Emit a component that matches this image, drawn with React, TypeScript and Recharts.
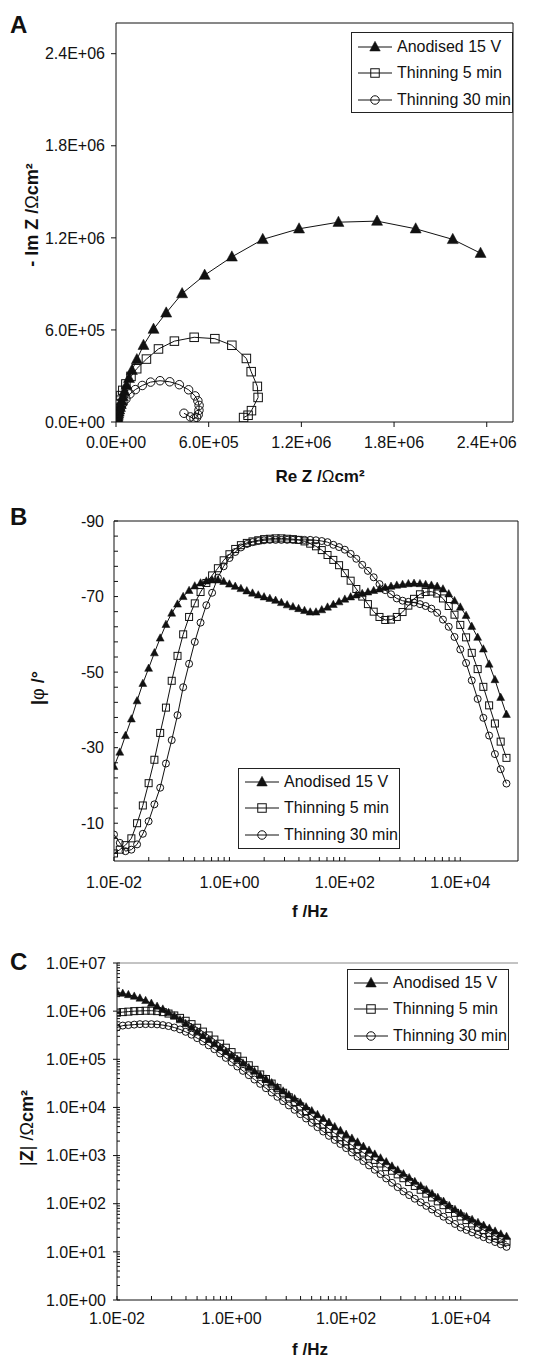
import React from 'react'
import { ScatterChart, Scatter, XAxis, YAxis, ReferenceLine } from 'recharts'

const FONT = '"Liberation Sans", Arial, Helvetica, sans-serif'
const INK = '#111'

// frequencies of the Bode sweep, 10 points per decade
const freqHz = [
  0.01, 0.0126, 0.0158, 0.02, 0.0251, 0.0316, 0.0398, 0.0501, 0.0631, 0.0794,
  0.1, 0.126, 0.158, 0.2, 0.251, 0.316, 0.398, 0.501, 0.631, 0.794,
  1, 1.26, 1.58, 2, 2.51, 3.16, 3.98, 5.01, 6.31, 7.94,
  10, 12.6, 15.8, 20, 25.1, 31.6, 39.8, 50.1, 63.1, 79.4,
  100, 126, 158, 200, 251, 316, 398, 501, 631, 794,
  1000, 1260, 1580, 2000, 2510, 3160, 3980, 5010, 6310, 7940,
  10000, 12600, 15800, 20000, 25100, 31600, 39800, 50100, 63100,
]

// phase angle (deg)
const phaseAnod = [
  -25.0, -28.8, -33.2, -37.6, -42.4, -47.0, -51.0, -55.1, -59.0, -62.6,
  -65.6, -68.0, -70.0, -71.6, -72.8, -73.6, -74.1, -74.4, -74.4, -74.0,
  -73.3, -72.7, -72.1, -71.5, -70.9, -70.4, -69.9, -69.5, -69.0, -68.4,
  -67.8, -67.3, -66.8, -66.3, -65.9, -65.9, -66.5, -67.2, -67.9, -68.6,
  -69.3, -69.9, -70.4, -70.8, -71.2, -71.6, -72.0, -72.4, -72.7, -73.0,
  -73.2, -73.4, -73.5, -73.4, -73.2, -73.0, -72.7, -72.0, -70.7, -68.9,
  -67.2, -65.0, -62.1, -59.2, -56.1, -52.1, -48.0, -43.3, -38.8,
]
const phaseThin5 = [
  -2.0, -3.0, -4.2, -6.0, -10.0, -14.7, -20.6, -26.8, -33.9, -40.6,
  -47.7, -54.3, -60.0, -64.6, -68.2, -71.2, -73.6, -75.6, -77.5, -79.6,
  -81.2, -82.6, -83.6, -84.2, -84.6, -84.9, -85.2, -85.3, -85.4, -85.4,
  -85.3, -85.2, -85.0, -84.6, -84.0, -83.3, -82.3, -81.0, -79.7, -78.3,
  -76.2, -74.2, -72.0, -70.0, -68.0, -66.0, -64.6, -63.8, -63.9, -64.6,
  -65.9, -67.6, -69.4, -70.6, -71.2, -71.3, -70.8, -69.5, -67.5, -65.2,
  -62.5, -59.2, -55.1, -50.8, -46.1, -41.2, -36.4, -31.6, -27.3,
]
const phaseThin30 = [
  -7.0, -4.8, -2.6, -3.0, -4.4, -7.2, -10.5, -15.0, -19.4, -25.8,
  -32.0, -38.6, -46.0, -52.2, -58.0, -63.1, -67.7, -71.0, -75.0, -78.0,
  -80.2, -81.8, -83.0, -83.9, -84.4, -84.7, -84.9, -85.0, -85.0, -85.0,
  -85.0, -85.0, -85.0, -85.0, -85.0, -84.9, -84.7, -84.4, -83.7, -83.1,
  -82.4, -81.3, -80.0, -78.4, -76.8, -75.1, -73.3, -71.7, -70.6, -69.5,
  -68.9, -68.6, -68.4, -68.0, -67.5, -66.8, -65.7, -63.9, -62.0, -59.3,
  -56.0, -52.4, -47.8, -42.9, -37.9, -33.2, -28.3, -24.3, -20.5,
]

// impedance modulus (ohm cm2)
const modAnod = [
  2450000, 2340000, 2200000, 2040000, 1860000, 1660000, 1450000, 1260000, 1100000, 933000,
  794000, 661000, 550000, 457000, 372000, 309000, 257000, 209000, 174000, 145000,
  120000, 100000, 83200, 67600, 56200, 46800, 38900, 32400, 26300, 21900,
  18200, 15100, 12600, 10200, 8510, 7080, 5890, 4900, 3980, 3310,
  2750, 2290, 1910, 1550, 1290, 1070, 891, 741, 603, 501,
  417, 347, 288, 234, 195, 162, 135, 112, 91.2, 75.9,
  63.1, 53.7, 46.8, 40.7, 35.5, 30.9, 26.9, 23.4, 20.9,
]
const modThin5 = [
  933000, 955000, 977000, 1000000, 1010000, 1020000, 1020000, 1000000, 955000, 891000,
  813000, 724000, 631000, 537000, 452000, 376000, 313000, 257000, 211000, 174000,
  141000, 115000, 93300, 75000, 60300, 48400, 38900, 31300, 25100, 20200,
  16200, 13000, 10500, 8410, 6760, 5430, 4420, 3590, 2920, 2400,
  1970, 1640, 1360, 1150, 966, 813, 684, 575, 484, 407,
  339, 282, 234, 195, 162, 135, 112, 93.3, 77.6, 64.6,
  54.3, 45.7, 38.9, 33.1, 28.5, 24.5, 21.4, 18.6, 16.2,
]
const modThin30 = [
  457000, 501000, 513000, 525000, 537000, 537000, 537000, 531000, 513000, 490000,
  457000, 417000, 372000, 324000, 275000, 234000, 195000, 162000, 132000, 107000,
  87100, 70800, 57500, 46800, 38000, 30900, 25100, 20400, 16600, 13500,
  11000, 8910, 7240, 5890, 4790, 3890, 3160, 2570, 2110, 1740,
  1430, 1160, 944, 767, 624, 507, 412, 335, 272, 221,
  180, 151, 127, 107, 90.2, 75.9, 63.8, 53.7, 45.2, 38.0,
  32.0, 28.5, 25.4, 22.6, 20.2, 18.0, 16.0, 14.3, 12.7,
]

// Nyquist points, low frequency first
const reAnod = [
  2360000, 2180000, 1940000, 1690000, 1440000, 1185000, 950000, 750000, 574000, 428000,
  325000, 243000, 178000, 135000, 103000, 84000, 68000, 55000, 45000, 37000,
  31000, 25500, 21000, 17500, 14500, 12000, 10000, 8300, 6900, 5700,
  4700, 3900, 3200, 2600, 2100, 1700, 1400, 1100, 900, 700,
]
const imAnod = [
  1100000, 1190000, 1259000, 1309000, 1302000, 1259000, 1190000, 1076000, 957000, 837000,
  711000, 605000, 500000, 407000, 337000, 285000, 240000, 200000, 166000, 138000,
  115000, 96000, 80000, 66000, 55000, 45000, 37000, 31000, 25500, 21000,
  17500, 14500, 12000, 9900, 8200, 6800, 5600, 4600, 3800, 3100,
]
const reThin5 = [
  826000, 855000, 877000, 920000, 915000, 875000, 844000, 750000, 640000, 506000,
  378000, 275000, 197000, 134000, 97000, 64000, 44000, 32000, 24000, 18000,
  13500, 10500, 8200, 6400, 5000, 4000, 3100, 2500, 2000, 1600, 1300,
]
const imThin5 = [
  29000, 44000, 74000, 160000, 232000, 328000, 414000, 500000, 543000, 552000,
  527000, 476000, 410000, 347000, 297000, 248000, 206000, 172000, 142000, 116000,
  95000, 78000, 64000, 52000, 43000, 35000, 28000, 23000, 18500, 15000, 12000,
]
const reThin30 = [
  440000, 482000, 505000, 522000, 532000, 537000, 538000, 530000, 512000, 470000,
  410000, 348000, 285000, 224000, 170000, 125000, 90000, 64000, 46000, 34000,
  25000, 19000, 14000, 10500, 8000, 6000, 4600, 3500, 2700, 2100, 1600,
]
const imThin30 = [
  57000, 33000, 22000, 30000, 48000, 76000, 108000, 138000, 170000, 210000,
  243000, 262000, 269000, 260000, 238000, 211000, 183000, 150000, 122000, 99000,
  80000, 65000, 52000, 42000, 34000, 27000, 22000, 17500, 14000, 11200, 9000,
]

const seriesNames = ['Anodised 15 V', 'Thinning 5 min', 'Thinning 30 min']
const markerKinds = ['tri', 'sq', 'circ']

const nyqTicks = [0, 600000, 1200000, 1800000, 2400000]
const phaseLabels = [-90, -70, -50, -30, -10]
const phaseMinor = [-86, -82, -78, -74, -66, -62, -58, -54, -46, -42, -38, -34, -26, -22, -18, -14, -6, -2]
const freqLabels = [0.01, 1, 100, 10000]
const modLabels = [1, 10, 100, 1000, 10000, 100000, 1000000, 10000000]

// axis furniture: minor tick positions
const freqMinor = [0.01, 1, 100].flatMap((b) => [2, 3, 4, 5, 6, 7, 8, 9].map((k) => b * k * k))
const modMinor = modLabels.slice(0, -1).flatMap((b) => [2, 3, 4, 5, 6, 7, 8, 9].map((k) => b * k))

const pairs = (xs: number[], ys: number[]) => xs.map((x, i) => ({ x, y: ys[i] }))
const nyquistData = [pairs(reAnod, imAnod), pairs(reThin5, imThin5), pairs(reThin30, imThin30)]
const phaseData = [phaseAnod, phaseThin5, phaseThin30].map((ys) => pairs(freqHz, ys))
const modData = [modAnod, modThin5, modThin30].map((ys) => pairs(freqHz, ys))

function sci(v: number) {
  if (v === 0) return '0.0E+00'
  const e = Math.floor(Math.log10(Math.abs(v)) + 1e-9)
  const m = v / Math.pow(10, e)
  return `${m.toFixed(1)}E${e < 0 ? '-' : '+'}${String(Math.abs(e)).padStart(2, '0')}`
}

const isIn = (list: number[], v: number) => list.some((l) => Math.abs(l - v) <= 1e-6 * Math.max(1, Math.abs(l)))

function Marker({ kind, cx, cy, size }: { kind: string; cx: number; cy: number; size: number }) {
  const h = size / 2
  if (kind === 'tri') {
    return (
      <polygon
        points={`${cx},${cy - h * 1.15} ${cx - h * 1.05},${cy + h * 0.8} ${cx + h * 1.05},${cy + h * 0.8}`}
        fill={INK}
        stroke={INK}
        strokeWidth={0.5}
      />
    )
  }
  if (kind === 'sq') return <rect x={cx - h} y={cy - h} width={size} height={size} fill="none" stroke={INK} strokeWidth={1} />
  return <circle cx={cx} cy={cy} r={h} fill="none" stroke={INK} strokeWidth={1} />
}

const shapeOf = (kind: string, size: number) => (p: any) =>
  p.cx == null ? <g /> : <Marker kind={kind} cx={p.cx} cy={p.cy} size={size} />

function leftTick(gap: number, labels: number[], inLen: number, outLen: number) {
  return (p: any) => {
    const v = p.payload.value
    const ax = p.x + gap
    const major = isIn(labels, v)
    return (
      <g>
        <line x1={ax - (major ? outLen : 0)} x2={ax + inLen} y1={p.y} y2={p.y} stroke={INK} strokeWidth={1} />
        {major && (
          <text x={p.x} y={p.y} dy="0.355em" textAnchor="end" fontSize={16} fill={INK}>
            {sci(v)}
          </text>
        )}
      </g>
    )
  }
}

function bottomTick(gap: number, labels: number[], inLen: number, outLen: number) {
  return (p: any) => {
    const v = p.payload.value
    const ay = p.y - gap
    const major = isIn(labels, v)
    return (
      <g>
        <line x1={p.x} x2={p.x} y1={ay + (major ? outLen : 0)} y2={ay - inLen} stroke={INK} strokeWidth={1} />
        {major && (
          <text x={p.x} y={p.y} dy="0.355em" textAnchor="middle" fontSize={16} fill={INK}>
            {sci(v)}
          </text>
        )}
      </g>
    )
  }
}

function NyquistChart() {
  return (
    <ScatterChart width={536} height={460} margin={{ top: 23, right: 23, bottom: 0, left: 0 }}>
      <XAxis
        type="number"
        dataKey="x"
        domain={[0, 2570000]}
        ticks={nyqTicks}
        interval={0}
        tickFormatter={sci}
        tickSize={5}
        tickMargin={10}
        height={38}
        allowDataOverflow
        axisLine={{ stroke: INK }}
        tickLine={{ stroke: INK }}
        tick={{ fontSize: 16, fill: INK }}
      />
      <YAxis
        type="number"
        dataKey="y"
        domain={[0, 2600000]}
        ticks={nyqTicks}
        interval={0}
        tickFormatter={sci}
        tickSize={5}
        tickMargin={6}
        width={116}
        allowDataOverflow
        axisLine={{ stroke: INK }}
        tickLine={{ stroke: INK }}
        tick={{ fontSize: 16, fill: INK }}
      />
      <ReferenceLine y={2600000} stroke={INK} />
      <ReferenceLine x={2570000} stroke={INK} />
      {nyquistData.map((d, i) => (
        <Scatter
          key={seriesNames[i]}
          name={seriesNames[i]}
          data={d}
          line={{ stroke: INK, strokeWidth: 1 }}
          lineType="joint"
          shape={shapeOf(markerKinds[i], i === 0 ? 10.5 : 8.5)}
          isAnimationActive={false}
        />
      ))}
    </ScatterChart>
  )
}

function PhaseChart() {
  return (
    <ScatterChart width={536} height={430} margin={{ top: 51, right: 18, bottom: 0, left: 0 }}>
      <XAxis
        type="number"
        dataKey="x"
        scale="log"
        domain={[0.01, 100000]}
        ticks={[...freqLabels, ...freqMinor]}
        interval={0}
        tickSize={0}
        tickMargin={21}
        tickLine={false}
        height={39}
        allowDataOverflow
        axisLine={{ stroke: INK }}
        tick={bottomTick(21, freqLabels, 4, 0)}
      />
      <YAxis
        type="number"
        dataKey="y"
        domain={[-90, 0]}
        reversed
        ticks={[...phaseLabels, ...phaseMinor]}
        interval={0}
        tickSize={0}
        tickMargin={10}
        tickLine={false}
        width={114}
        allowDataOverflow
        axisLine={{ stroke: INK }}
        tick={(p: any) => {
          const v = p.payload.value
          const ax = p.x + 10
          return (
            <g>
              <line x1={ax} x2={ax + 4} y1={p.y} y2={p.y} stroke={INK} strokeWidth={1} />
              {isIn(phaseLabels, v) && (
                <text x={p.x} y={p.y} dy="0.355em" textAnchor="end" fontSize={16} fill={INK}>
                  {v}
                </text>
              )}
            </g>
          )
        }}
      />
      <ReferenceLine y={-90} stroke={INK} />
      <ReferenceLine x={100000} stroke={INK} />
      {phaseData.map((d, i) => (
        <Scatter
          key={seriesNames[i]}
          name={seriesNames[i]}
          data={d}
          line={{ stroke: INK, strokeWidth: 1 }}
          lineType="joint"
          shape={shapeOf(markerKinds[i], i === 0 ? 7.5 : 7)}
          isAnimationActive={false}
        />
      ))}
    </ScatterChart>
  )
}

function ModulusChart() {
  return (
    <ScatterChart width={536} height={420} margin={{ top: 43, right: 18, bottom: 0, left: 0 }}>
      <XAxis
        type="number"
        dataKey="x"
        scale="log"
        domain={[0.01, 100000]}
        ticks={[...freqLabels, ...freqMinor]}
        interval={0}
        tickSize={0}
        tickMargin={18}
        tickLine={false}
        height={40}
        allowDataOverflow
        axisLine={{ stroke: INK }}
        tick={bottomTick(18, freqLabels, 4, 0)}
      />
      <YAxis
        type="number"
        dataKey="y"
        scale="log"
        domain={[1, 10000000]}
        ticks={[...modLabels, ...modMinor]}
        interval={0}
        tickSize={0}
        tickMargin={11}
        tickLine={false}
        width={117}
        allowDataOverflow
        axisLine={{ stroke: INK }}
        tick={leftTick(11, modLabels, 3, 4)}
      />
      <ReferenceLine y={10000000} stroke="#888" />
      {modData.map((d, i) => (
        <Scatter
          key={seriesNames[i]}
          name={seriesNames[i]}
          data={d}
          line={{ stroke: INK, strokeWidth: 1 }}
          lineType="joint"
          shape={shapeOf(markerKinds[i], i === 0 ? 7.5 : 7)}
          isAnimationActive={false}
        />
      ))}
    </ScatterChart>
  )
}

function LegendBox({ left, top, big }: { left: number; top: number; big?: boolean }) {
  return (
    <div
      style={{
        position: 'absolute',
        left,
        top,
        width: 162,
        height: 81,
        boxSizing: 'border-box',
        border: '1px solid #222',
        background: '#fff',
        paddingTop: big ? 1 : 0,
      }}
    >
      {seriesNames.map((name, i) => (
        <div key={name} style={{ height: 26.3, display: 'flex', alignItems: 'center' }}>
          <svg width={45} height={16} style={{ flex: 'none' }}>
            <line x1={6} x2={40} y1={8} y2={8} stroke={INK} strokeWidth={1} />
            <Marker kind={markerKinds[i]} cx={23} cy={8} size={i === 0 ? 10 : 8.5} />
          </svg>
          <span style={{ fontSize: 16, color: INK, whiteSpace: 'nowrap' }}>{name}</span>
        </div>
      ))}
    </div>
  )
}

export default function App() {
  return (
    <div
      style={{
        position: 'absolute',
        left: 0,
        top: 0,
        width: 536,
        height: 1359,
        background: '#fff',
        fontFamily: FONT,
        color: INK,
        overflow: 'hidden',
      }}
    >
      <div style={{ position: 'absolute', left: 0, top: 0 }}>
        <NyquistChart />
      </div>
      <div style={{ position: 'absolute', left: 0, top: 470 }}>
        <PhaseChart />
      </div>
      <div style={{ position: 'absolute', left: 0, top: 920 }}>
        <ModulusChart />
      </div>

      <LegendBox left={351} top={32} big />
      <LegendBox left={238} top={768} />
      <LegendBox left={347} top={969} />

      <svg width={536} height={1359} style={{ position: 'absolute', left: 0, top: 0, pointerEvents: 'none' }}>
        <g fontFamily={FONT} fill={INK} fontWeight="bold">
          <text x={10} y={33} fontSize={24}>A</text>
          <text x={10} y={525} fontSize={24}>B</text>
          <text x={10} y={970} fontSize={24}>C</text>

          <text x={320} y={482} fontSize={17} textAnchor="middle">
            Re Z /<tspan fontWeight="normal">Ω</tspan>cm²
          </text>
          <text transform="translate(38,215) rotate(-90)" fontSize={18} textAnchor="middle">
            - Im Z /<tspan fontWeight="normal">Ω</tspan>cm²
          </text>

          <text x={310} y={917} fontSize={17} textAnchor="middle">f /Hz</text>
          <text transform="translate(44,688) rotate(-90)" fontSize={18} textAnchor="middle">
            |<tspan fontWeight="normal">φ</tspan> /°
          </text>

          <text x={310} y={1355} fontSize={17} textAnchor="middle">f /Hz</text>
          <text transform="translate(33,1128) rotate(-90)" fontSize={18} textAnchor="middle">
            <tspan fontWeight="normal">|</tspan>Z<tspan fontWeight="normal">| /Ω</tspan>cm²
          </text>
        </g>
      </svg>
    </div>
  )
}
